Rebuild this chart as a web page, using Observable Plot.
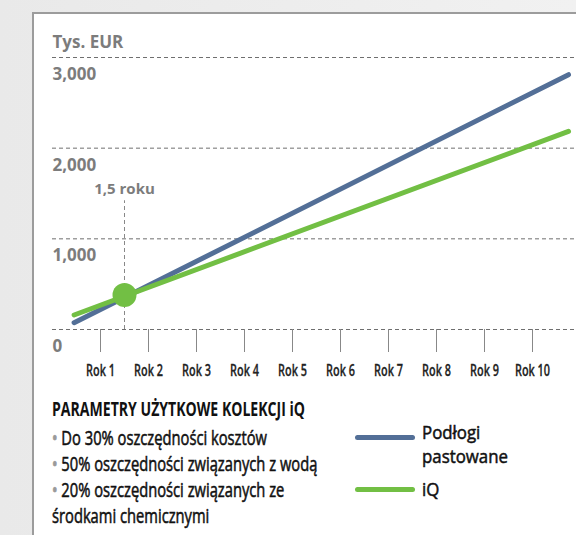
<!DOCTYPE html>
<html>
<head>
<meta charset="utf-8">
<script src="https://cdn.jsdelivr.net/npm/d3@7"></script>
<script src="https://cdn.jsdelivr.net/npm/@observablehq/plot@0.6"></script>
<style>
  html, body { margin: 0; padding: 0; }
  body { width: 576px; height: 535px; overflow: hidden; position: relative;
         background: linear-gradient(90deg, #e9e9e9, #f1f1f1);
         font-family: "Open Sans", "DejaVu Sans Condensed", sans-serif; }
  #panel { position: absolute; left: 32px; top: 12px; width: 600px; height: 600px;
           background: #fff; border-left: 2px solid #9c9c9c; border-top: 2px solid #9c9c9c; }
  #chart { position: absolute; left: 0; top: 0; }
  #notes { position: absolute; left: 52px; top: 396px; color: #111; }
  #notes .title { font-weight: 700; font-size: 19px; line-height: 26px; white-space: nowrap;
                  transform-origin: 0 0; display: inline-block; }
  #notes .items { transform-origin: 0 0; margin-top: 3px; }
  #notes .item { font-size: 19.5px; line-height: 26px; height: 26px; white-space: nowrap; font-weight: 400;
                 -webkit-text-stroke: 0.55px #111; }
  #notes .dot { color: #9a9a9a; -webkit-text-stroke: 0.8px #9a9a9a; }
  #legend { position: absolute; left: 355px; top: 420px; font-size: 18px; color: #111; font-weight: 400;
            -webkit-text-stroke: 0.5px #111; }
  .lg { position: absolute; width: 60px; height: 5px; border-radius: 3px; }
  .lt { position: absolute; left: 67px; white-space: nowrap; line-height: 24px; transform-origin: 0 50%; }
</style>
</head>
<body>
<div id="panel"></div>
<div id="chart"></div>
<div id="notes"></div>
<div id="legend"></div>
<script>
// ---- data ----
const years = [1, 2, 3, 4, 5, 6, 7, 8, 9, 10];
const yTicks = [0, 1000, 2000, 3000];
const lineYears = [0.45, 10.75];
const pastowane = [75, 2810];   // Podłogi pastowane
const iq = [160, 2185];         // iQ
const breakEvenYear = [1.5];
const breakEvenValue = [380];
const breakEvenTop = [1420];
const seriesNames = ["Podłogi pastowane", "iQ"];
const seriesColors = ["#536f97", "#72bf44"];
const yUnit = "Tys. EUR";
const title = "PARAMETRY UŻYTKOWE KOLEKCJI iQ";
const bulletLines = [
  ["• ", "Do 30% oszczędności kosztów"],
  ["• ", "50% oszczędności związanych z wodą"],
  ["• ", "20% oszczędności związanych ze"],
  ["", "środkami chemicznymi"]
];
const legendLabels = [["Podłogi", "pastowane"], ["iQ"]];

const rows = [];
lineYears.forEach((y, i) => rows.push({year: y, value: pastowane[i], series: seriesNames[0]}));
lineYears.forEach((y, i) => rows.push({year: y, value: iq[i], series: seriesNames[1]}));
const be = breakEvenYear.map((y, i) => ({year: y, value: breakEvenValue[i], top: breakEvenTop[i]}));

const font = '"Open Sans", "DejaVu Sans Condensed", sans-serif';

const chart = Plot.plot({
  width: 576,
  height: 390,
  marginTop: 57,
  marginBottom: 61,
  marginLeft: 52,
  marginRight: 0,
  style: { background: "transparent", fontFamily: font, overflow: "visible" },
  x: { domain: [0, 11], range: [52, 580], label: null },
  y: { domain: [0, 3000], axis: null },
  color: { domain: seriesNames, range: seriesColors },
  marks: [
    Plot.ruleY(yTicks, { stroke: "#6f6f6f", strokeDasharray: "4,3", strokeWidth: 1 }),
    Plot.text(yTicks, { x: 0, y: d => d, text: d => d3.format(",")(d), dy: 17, ariaLabel: "ylab",
      textAnchor: "start", fill: "#7c7c7c", fontWeight: 700, fontSize: 17 }),
    Plot.text([yUnit], { x: 0, y: 3000, text: d => d, dy: -15, ariaLabel: "yunit",
      textAnchor: "start", fill: "#7c7c7c", fontWeight: 700, fontSize: 17 }),
    Plot.axisX(years, { tickSize: 23, tickPadding: 11, stroke: "#888", label: null,
      tickFormat: d => "Rok " + d, fill: "#222", fontSize: 17, fontWeight: 600 }),
    Plot.ruleX(be, { x: "year", y1: 0, y2: "top", stroke: "#888", strokeDasharray: "4,3" }),
    Plot.text(be, { x: "year", y: "top", text: d => String(d.year).replace(".", ",") + " roku",
      dy: -12, fill: "#7c7c7c", fontWeight: 700, fontSize: 15, ariaLabel: "beLabel" }),
    Plot.line(rows, { x: "year", y: "value", z: "series", stroke: "series",
      strokeWidth: 5, strokeLinecap: "round" }),
    Plot.dot(be, { x: "year", y: "value", r: 12, fill: seriesColors[1] })
  ]
});
document.getElementById("chart").appendChild(chart);

// condense SVG text groups so that one sample label matches the reference width
function condense(label, sampleText, target) {
  const texts = [...chart.querySelectorAll(`g[aria-label="${label}"] text`)];
  if (!texts.length) return;
  const sample = texts.find(t => t.textContent === sampleText) || texts[0];
  const f = target / sample.getComputedTextLength();
  texts.forEach(t => {
    const L = t.getComputedTextLength();
    t.setAttribute("textLength", L * f);
    t.setAttribute("lengthAdjust", "spacingAndGlyphs");
  });
}
condense("x-axis tick label", "Rok 10", 35);
condense("ylab", "3,000", 37);
condense("yunit", yUnit, 50);
condense("beLabel", "1,5 roku", 44);
chart.querySelectorAll('g[aria-label="x-axis tick label"] text').forEach(t => {
  t.setAttribute("stroke", "#222");
  t.setAttribute("stroke-width", "0.3");
});

// notes
const notes = document.getElementById("notes");
const t = document.createElement("div");
t.className = "title";
t.textContent = title;
notes.appendChild(t);
t.style.transform = `scaleX(${253 / t.getBoundingClientRect().width})`;
const items = document.createElement("div");
items.className = "items";
notes.appendChild(items);
let firstLine;
bulletLines.forEach(([b, txt]) => {
  const d = document.createElement("div");
  d.className = "item";
  d.innerHTML = (b ? '<span class="dot">•</span> ' : "") + txt;
  items.appendChild(d);
  if (!firstLine) { d.style.display = "inline-block"; firstLine = d; }
});
const f1 = 215 / firstLine.getBoundingClientRect().width;
firstLine.style.display = "block";
items.style.transform = `scaleX(${f1})`;

// legend
const legend = document.getElementById("legend");
const lgPos = [{line: 15, text: [0, 24]}, {line: 67, text: [57]}];
let lf = null;
seriesNames.forEach((s, i) => {
  const l = document.createElement("div");
  l.className = "lg";
  l.style.top = lgPos[i].line + "px";
  l.style.background = seriesColors[i];
  legend.appendChild(l);
  legendLabels[i].forEach((txt, j) => {
    const e = document.createElement("div");
    e.className = "lt";
    e.style.top = lgPos[i].text[j] + "px";
    e.textContent = txt;
    legend.appendChild(e);
    if (txt === "pastowane") lf = 86 / e.getBoundingClientRect().width;
  });
});
legend.querySelectorAll(".lt").forEach(e => e.style.transform = `scaleX(${lf})`);
</script>
</body>
</html>
